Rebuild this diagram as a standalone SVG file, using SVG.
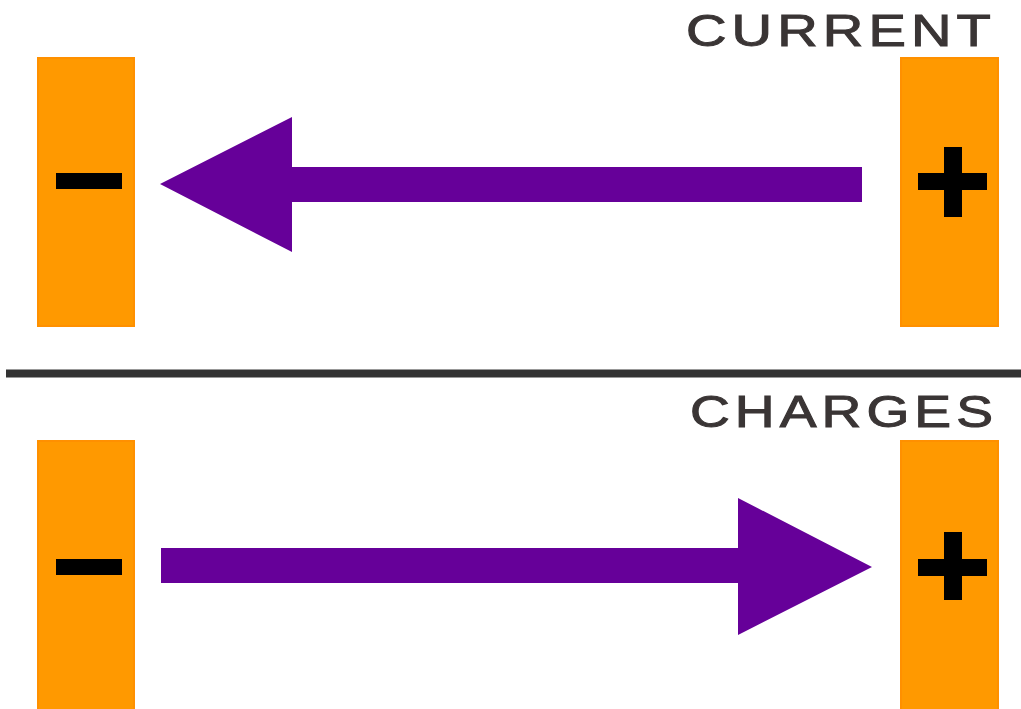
<svg xmlns="http://www.w3.org/2000/svg" width="1021" height="709" viewBox="0 0 1021 709">
<style>
.bar{fill:#ff9900;stroke:#ff9000;stroke-width:2}
.sign{fill:#000}
.arrow{fill:#660099}
.lbl{font-family:"Liberation Sans",Arial,sans-serif;font-size:44px;letter-spacing:4px;fill:#3a3535;stroke:#3a3535;stroke-width:1}
</style>
<rect width="1021" height="709" fill="#fff"/>
<g id="current-section">
<g id="label-current"><text class="lbl" x="686" y="46" textLength="310" lengthAdjust="spacingAndGlyphs">CURRENT</text></g>
<g id="neg-top"><rect class="bar" x="38" y="58" width="96" height="268"/><rect class="sign" x="56" y="173" width="66" height="16"/></g>
<g id="pos-top"><rect class="bar" x="901" y="58" width="97" height="268"/><rect class="sign" x="918" y="173" width="69" height="17"/><rect class="sign" x="944" y="147" width="18" height="70"/></g>
</g>
<g id="divider"><rect x="6" y="369.5" width="1015" height="8" fill="#333"/></g>
<g id="charges-section">
<g id="label-charges"><text class="lbl" x="690" y="427" textLength="308" lengthAdjust="spacingAndGlyphs">CHARGES</text></g>
<g id="neg-bottom"><rect class="bar" x="38" y="441" width="96" height="280"/><rect class="sign" x="56" y="559" width="66" height="16"/></g>
<g id="pos-bottom"><rect class="bar" x="901" y="441" width="97" height="280"/><rect class="sign" x="918" y="559" width="69" height="17"/><rect class="sign" x="944" y="532" width="18" height="68"/></g>
</g>
<g id="connectors">
<polygon class="arrow" points="160,184 292,117 292,167 862,167 862,202 292,202 292,252"/>
<polygon class="arrow" points="872,567 738,498 738,548 161,548 161,583 738,583 738,635"/>
</g>
</svg>
